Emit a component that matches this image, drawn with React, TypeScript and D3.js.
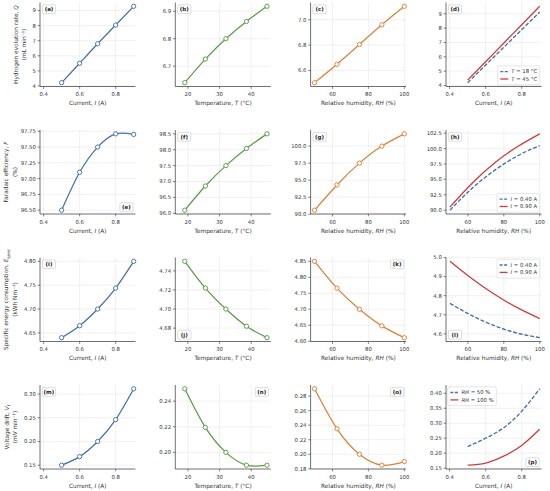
import React from "react";
import * as d3 from "d3";

// ---------------- data ----------------
const currentI = [0.5, 0.6, 0.7, 0.8, 0.9];
const temperatureT = [19, 25.5, 32, 38.5, 45];
const humidityRH = [50, 62.5, 75, 87.5, 100];

const hydrogenVsCurrent = [4.22, 5.51, 6.8, 8.04, 9.28];
const hydrogenVsTemperature = [6.64, 6.726, 6.8, 6.863, 6.918];
const hydrogenVsHumidity = [6.505, 6.65, 6.805, 6.96, 7.105];
const hydrogenCurrentT18 = [4.2, 5.43, 6.66, 7.89, 9.12];
const hydrogenCurrentT45 = [4.38, 5.66, 6.95, 8.23, 9.52];

const faradaicVsCurrent = [96.5, 97.1, 97.5, 97.71, 97.7];
const faradaicVsTemperature = [96.1, 96.86, 97.5, 98.04, 98.5];
const faradaicVsHumidity = [90.6, 94.3, 97.5, 100.0, 101.8];
const faradaicHumidityI040 = [90.0, 93.6, 96.5, 98.8, 100.5];
const faradaicHumidityI090 = [90.5, 94.4, 97.7, 100.3, 102.4];

const energyVsCurrent = [4.64, 4.665, 4.7, 4.744, 4.8];
const energyVsTemperature = [4.75, 4.722, 4.7, 4.682, 4.67];
const energyVsHumidity = [4.85, 4.766, 4.7, 4.648, 4.611];
const energyHumidityI040 = [4.76, 4.694, 4.642, 4.604, 4.58];
const energyHumidityI090 = [4.98, 4.887, 4.806, 4.737, 4.68];

const driftVsCurrent = [0.15, 0.168, 0.2, 0.246, 0.311];
const driftVsTemperature = [0.2496, 0.2195, 0.2, 0.19, 0.19];
const driftVsHumidity = [0.29, 0.235, 0.2, 0.185, 0.19];
const driftCurrentRH50 = [0.222, 0.25, 0.285, 0.34, 0.415];
const driftCurrentRH100 = [0.16, 0.167, 0.19, 0.226, 0.28];

// tick values
const xTicksCurrent = [0.4, 0.6, 0.8];
const xTicksTemperature = [20, 30, 40];
const xTicksHumidity = [60, 80, 100];

const yTicksA = [4, 5, 6, 7, 8, 9];
const yTicksB = [6.7, 6.8, 6.9];
const yTicksC = [6.6, 6.8, 7.0];
const yTicksD = [4, 5, 6, 7, 8, 9];
const yTicksE = [96.5, 96.75, 97.0, 97.25, 97.5, 97.75];
const yTicksF = [96.0, 96.5, 97.0, 97.5, 98.0, 98.5];
const yTicksG = [90.0, 92.5, 95.0, 97.5, 100.0];
const yTicksH = [90.0, 92.5, 95.0, 97.5, 100.0, 102.5];
const yTicksI = [4.65, 4.7, 4.75, 4.8];
const yTicksJ = [4.68, 4.7, 4.72, 4.74];
const yTicksK = [4.6, 4.65, 4.7, 4.75, 4.8, 4.85];
const yTicksL = [4.6, 4.7, 4.8, 4.9, 5.0];
const yTicksM = [0.15, 0.2, 0.25, 0.3];
const yTicksN = [0.2, 0.22, 0.24];
const yTicksO = [0.18, 0.2, 0.22, 0.24, 0.26, 0.28];
const yTicksP = [0.15, 0.2, 0.25, 0.3, 0.35, 0.4];

// ---------------- style ----------------
const BLUE = "#4471a6";
const GREEN = "#5a9c47";
const ORANGE = "#d9823a";
const RED = "#cc3e40";
const FONT = "DejaVu Sans";
const TICK_FS = 5.3;
const LABEL_FS = 5.8;
const TEXT = "#333333";
const GRID = "#e2e2e2";

const COLS = [40, 175.3, 310.6, 446];
const ROWS = [2.5, 130, 257.5, 385];
const PW = 95.5;
const PH = 84;

const X_DOMAIN_I: [number, number] = [0.38, 0.91];
const X_DOMAIN_T: [number, number] = [16, 46.2];
const X_DOMAIN_RH: [number, number] = [47.8, 101];

type Series = {
  x: number[];
  y: number[];
  color: string;
  dashed?: boolean;
  markers?: boolean;
  legend?: { v: string; rest: string };
};

type PanelSpec = {
  tag: string;
  col: number;
  row: number;
  xDomain: [number, number];
  xTicks: number[];
  xDec: number;
  xLabel: { pre: string; v: string; post: string };
  yTicks: number[];
  yDec: number;
  series: Series[];
  tagPos: "tl" | "tr" | "bl" | "br";
  legendPos?: "tl" | "tr" | "bl" | "br";
};

const XL_I = { pre: "Current, ", v: "I", post: " (A)" };
const XL_T = { pre: "Temperature, ", v: "T", post: " (°C)" };
const XL_RH = { pre: "Relative humidity, ", v: "RH", post: " (%)" };

const single = (x: number[], y: number[], color: string): Series[] => [
  { x, y, color, markers: true },
];

const panels: PanelSpec[] = [
  { tag: "(a)", col: 0, row: 0, xDomain: X_DOMAIN_I, xTicks: xTicksCurrent, xDec: 1, xLabel: XL_I, yTicks: yTicksA, yDec: 0, series: single(currentI, hydrogenVsCurrent, BLUE), tagPos: "tl" },
  { tag: "(b)", col: 1, row: 0, xDomain: X_DOMAIN_T, xTicks: xTicksTemperature, xDec: 0, xLabel: XL_T, yTicks: yTicksB, yDec: 1, series: single(temperatureT, hydrogenVsTemperature, GREEN), tagPos: "tl" },
  { tag: "(c)", col: 2, row: 0, xDomain: X_DOMAIN_RH, xTicks: xTicksHumidity, xDec: 0, xLabel: XL_RH, yTicks: yTicksC, yDec: 1, series: single(humidityRH, hydrogenVsHumidity, ORANGE), tagPos: "tl" },
  {
    tag: "(d)", col: 3, row: 0, xDomain: X_DOMAIN_I, xTicks: xTicksCurrent, xDec: 1, xLabel: XL_I, yTicks: yTicksD, yDec: 0,
    series: [
      { x: currentI, y: hydrogenCurrentT18, color: BLUE, dashed: true, legend: { v: "T", rest: " = 18 °C" } },
      { x: currentI, y: hydrogenCurrentT45, color: RED, legend: { v: "T", rest: " = 45 °C" } },
    ],
    tagPos: "tl", legendPos: "br",
  },
  { tag: "(e)", col: 0, row: 1, xDomain: X_DOMAIN_I, xTicks: xTicksCurrent, xDec: 1, xLabel: XL_I, yTicks: yTicksE, yDec: 2, series: single(currentI, faradaicVsCurrent, BLUE), tagPos: "br" },
  { tag: "(f)", col: 1, row: 1, xDomain: X_DOMAIN_T, xTicks: xTicksTemperature, xDec: 0, xLabel: XL_T, yTicks: yTicksF, yDec: 1, series: single(temperatureT, faradaicVsTemperature, GREEN), tagPos: "tl" },
  { tag: "(g)", col: 2, row: 1, xDomain: X_DOMAIN_RH, xTicks: xTicksHumidity, xDec: 0, xLabel: XL_RH, yTicks: yTicksG, yDec: 1, series: single(humidityRH, faradaicVsHumidity, ORANGE), tagPos: "tl" },
  {
    tag: "(h)", col: 3, row: 1, xDomain: X_DOMAIN_RH, xTicks: xTicksHumidity, xDec: 0, xLabel: XL_RH, yTicks: yTicksH, yDec: 1,
    series: [
      { x: humidityRH, y: faradaicHumidityI040, color: BLUE, dashed: true, legend: { v: "I", rest: " = 0.40 A" } },
      { x: humidityRH, y: faradaicHumidityI090, color: RED, legend: { v: "I", rest: " = 0.90 A" } },
    ],
    tagPos: "tl", legendPos: "br",
  },
  { tag: "(i)", col: 0, row: 2, xDomain: X_DOMAIN_I, xTicks: xTicksCurrent, xDec: 1, xLabel: XL_I, yTicks: yTicksI, yDec: 2, series: single(currentI, energyVsCurrent, BLUE), tagPos: "tl" },
  { tag: "(j)", col: 1, row: 2, xDomain: X_DOMAIN_T, xTicks: xTicksTemperature, xDec: 0, xLabel: XL_T, yTicks: yTicksJ, yDec: 2, series: single(temperatureT, energyVsTemperature, GREEN), tagPos: "bl" },
  { tag: "(k)", col: 2, row: 2, xDomain: X_DOMAIN_RH, xTicks: xTicksHumidity, xDec: 0, xLabel: XL_RH, yTicks: yTicksK, yDec: 2, series: single(humidityRH, energyVsHumidity, ORANGE), tagPos: "tr" },
  {
    tag: "(l)", col: 3, row: 2, xDomain: X_DOMAIN_RH, xTicks: xTicksHumidity, xDec: 0, xLabel: XL_RH, yTicks: yTicksL, yDec: 1,
    series: [
      { x: humidityRH, y: energyHumidityI040, color: BLUE, dashed: true, legend: { v: "I", rest: " = 0.40 A" } },
      { x: humidityRH, y: energyHumidityI090, color: RED, legend: { v: "I", rest: " = 0.90 A" } },
    ],
    tagPos: "bl", legendPos: "tr",
  },
  { tag: "(m)", col: 0, row: 3, xDomain: X_DOMAIN_I, xTicks: xTicksCurrent, xDec: 1, xLabel: XL_I, yTicks: yTicksM, yDec: 2, series: single(currentI, driftVsCurrent, BLUE), tagPos: "tl" },
  { tag: "(n)", col: 1, row: 3, xDomain: X_DOMAIN_T, xTicks: xTicksTemperature, xDec: 0, xLabel: XL_T, yTicks: yTicksN, yDec: 2, series: single(temperatureT, driftVsTemperature, GREEN), tagPos: "tr" },
  { tag: "(o)", col: 2, row: 3, xDomain: X_DOMAIN_RH, xTicks: xTicksHumidity, xDec: 0, xLabel: XL_RH, yTicks: yTicksO, yDec: 2, series: single(humidityRH, driftVsHumidity, ORANGE), tagPos: "tr" },
  {
    tag: "(p)", col: 3, row: 3, xDomain: X_DOMAIN_I, xTicks: xTicksCurrent, xDec: 1, xLabel: XL_I, yTicks: yTicksP, yDec: 2,
    series: [
      { x: currentI, y: driftCurrentRH50, color: BLUE, dashed: true, legend: { v: "RH", rest: " = 50 %" } },
      { x: currentI, y: driftCurrentRH100, color: RED, legend: { v: "RH", rest: " = 100 %" } },
    ],
    tagPos: "br", legendPos: "tl",
  },
];

// approximate DejaVu Sans advance widths (em)
const CW: Record<string, number> = {
  "0": 0.636, "1": 0.636, "2": 0.636, "3": 0.636, "4": 0.636, "5": 0.636, "6": 0.636, "7": 0.636, "8": 0.636, "9": 0.636,
  ".": 0.318, " ": 0.318, "=": 0.838, "°": 0.5, C: 0.698, A: 0.684, "%": 0.95, T: 0.611, I: 0.295, R: 0.695, H: 0.752,
};
const textW = (s: string, fs: number) =>
  s.split("").reduce((a, c) => a + (CW[c] ?? 0.6), 0) * fs;

function Panel({ p }: { p: PanelSpec }) {
  const left = COLS[p.col];
  const top = ROWS[p.row];
  const right = left + PW;
  const bottom = top + PH;
  const x = d3.scaleLinear().domain(p.xDomain).range([left, right]);
  const allY = p.series.flatMap((s) => s.y);
  const mn = d3.min(allY) as number;
  const mx = d3.max(allY) as number;
  const pad = (mx - mn) * 0.05;
  const y = d3.scaleLinear().domain([mn - pad, mx + pad]).range([bottom, top]);
  const line = d3
    .line<[number, number]>()
    .x((d) => x(d[0]))
    .y((d) => y(d[1]))
    .curve(d3.curveNatural);

  // tag box
  const tagW = 13.2;
  const tagH = 8.8;
  const inset = 2.4;
  const tagX = p.tagPos.endsWith("l") ? left + inset : right - inset - tagW;
  const tagY = p.tagPos.startsWith("t") ? top + inset : bottom - inset - tagH;

  // legend
  const legendItems = p.series.filter((s) => s.legend);
  let legend: React.ReactNode = null;
  if (p.legendPos && legendItems.length) {
    const lfs = TICK_FS;
    const handle = 8;
    const maxText = d3.max(legendItems, (s) => textW(s.legend!.v + s.legend!.rest, lfs)) as number;
    const lw = 2.6 + handle + 3 + maxText + 2.6;
    const rowH = 7.4;
    const lh = 4 + rowH * legendItems.length;
    const li = 1.8;
    const lx = p.legendPos.endsWith("l") ? left + li : right - li - lw;
    const ly = p.legendPos.startsWith("t") ? top + li : bottom - li - lh;
    legend = (
      <g>
        <rect x={lx} y={ly} width={lw} height={lh} rx={1.2} fill="white" fillOpacity={0.85} stroke="#cccccc" strokeWidth={0.5} />
        {legendItems.map((s, i) => {
          const cy = ly + 2 + rowH * (i + 0.5);
          return (
            <g key={i}>
              <line
                x1={lx + 2.6}
                x2={lx + 2.6 + handle}
                y1={cy}
                y2={cy}
                stroke={s.color}
                strokeWidth={1.3}
                strokeDasharray={s.dashed ? "3,1.5" : undefined}
              />
              <text x={lx + 2.6 + handle + 3} y={cy} dy="0.35em" fontSize={lfs} fill={TEXT} fontFamily={FONT}>
                <tspan fontStyle="italic">{s.legend!.v}</tspan>
                {s.legend!.rest}
              </text>
            </g>
          );
        })}
      </g>
    );
  }

  return (
    <g>
      {/* grid */}
      {p.xTicks.map((t) => (
        <line key={"gx" + t} x1={x(t)} x2={x(t)} y1={top} y2={bottom} stroke={GRID} strokeWidth={0.5} />
      ))}
      {p.yTicks.map((t) => (
        <line key={"gy" + t} x1={left} x2={right} y1={y(t)} y2={y(t)} stroke={GRID} strokeWidth={0.5} />
      ))}
      {/* series */}
      {p.series.map((s, i) => {
        const pts = s.x.map((xv, j) => [xv, s.y[j]] as [number, number]);
        return (
          <g key={i}>
            <path
              d={line(pts) || ""}
              fill="none"
              stroke={s.color}
              strokeWidth={s.markers ? 1.25 : 1.35}
              strokeDasharray={s.dashed ? "4,1.8" : undefined}
            />
            {s.markers &&
              pts.map((d, j) => (
                <circle key={j} cx={x(d[0])} cy={y(d[1])} r={2.15} fill="white" stroke={s.color} strokeWidth={0.95} />
              ))}
          </g>
        );
      })}
      {/* spines */}
      <line x1={left} x2={left} y1={top} y2={bottom} stroke="#333" strokeWidth={0.7} />
      <line x1={left} x2={right} y1={bottom} y2={bottom} stroke="#333" strokeWidth={0.7} />
      {/* x ticks */}
      {p.xTicks.map((t) => (
        <g key={"xt" + t}>
          <line x1={x(t)} x2={x(t)} y1={bottom} y2={bottom + 2.4} stroke="#333" strokeWidth={0.6} />
          <text x={x(t)} y={bottom + 9.6} textAnchor="middle" fontSize={TICK_FS} fill={TEXT} fontFamily={FONT}>
            {t.toFixed(p.xDec)}
          </text>
        </g>
      ))}
      {/* y ticks */}
      {p.yTicks.map((t) => (
        <g key={"yt" + t}>
          <line x1={left - 2.4} x2={left} y1={y(t)} y2={y(t)} stroke="#333" strokeWidth={0.6} />
          <text x={left - 4.2} y={y(t)} dy="0.36em" textAnchor="end" fontSize={TICK_FS} fill={TEXT} fontFamily={FONT}>
            {t.toFixed(p.yDec)}
          </text>
        </g>
      ))}
      {/* x label */}
      <text x={(left + right) / 2} y={bottom + 18.6} textAnchor="middle" fontSize={LABEL_FS} fill={TEXT} fontFamily={FONT}>
        {p.xLabel.pre}
        <tspan fontStyle="italic">{p.xLabel.v}</tspan>
        {p.xLabel.post}
      </text>
      {/* tag */}
      <rect x={tagX} y={tagY} width={tagW} height={tagH} rx={1.2} fill="white" fillOpacity={0.85} stroke="#bbbbbb" strokeWidth={0.5} />
      <text x={tagX + tagW / 2} y={tagY + tagH / 2} dy="0.36em" textAnchor="middle" fontSize={5.5} fontWeight="bold" fill="#222" fontFamily={FONT}>
        {p.tag}
      </text>
      {legend}
    </g>
  );
}

type YLabel = { line1: React.ReactNode; line2: React.ReactNode; x1: number; x2: number };

const yLabels: YLabel[] = [
  {
    line1: (
      <>
        Hydrogen evolution rate, <tspan fontStyle="italic">Q</tspan>
      </>
    ),
    line2: "(mL min⁻¹)",
    x1: 15.8,
    x2: 23.6,
  },
  {
    line1: (
      <>
        Faradaic efficiency, <tspan fontStyle="italic">F</tspan>
      </>
    ),
    line2: "(%)",
    x1: 6.4,
    x2: 14.8,
  },
  {
    line1: (
      <>
        Specific energy consumption, <tspan fontStyle="italic">E</tspan>
        <tspan fontSize={4.2} dy={1.3} fontStyle="italic">spec</tspan>
      </>
    ),
    line2: "(kWh Nm⁻³)",
    x1: 6.4,
    x2: 14.8,
  },
  {
    line1: (
      <>
        Voltage drift, <tspan fontStyle="italic">V</tspan>
        <tspan fontSize={4.2} dy={1.3} fontStyle="italic">t</tspan>
      </>
    ),
    line2: "(mV min⁻¹)",
    x1: 6.6,
    x2: 15,
  },
];

export default function App() {
  return (
    <svg
      width={550}
      height={491}
      viewBox="0 0 550 491"
      style={{ position: "absolute", left: 0, top: 0, background: "white" }}
    >
      <rect x={0} y={0} width={550} height={491} fill="white" />
      {panels.map((p) => (
        <Panel key={p.tag} p={p} />
      ))}
      {yLabels.map((l, r) => {
        const cy = ROWS[r] + PH / 2;
        return (
          <g key={r}>
            <text
              transform={`translate(${l.x1},${cy}) rotate(-90)`}
              textAnchor="middle"
              dominantBaseline="central"
              fontSize={LABEL_FS}
              fill={TEXT}
              fontFamily={FONT}
            >
              {l.line1}
            </text>
            <text
              transform={`translate(${l.x2},${cy}) rotate(-90)`}
              textAnchor="middle"
              dominantBaseline="central"
              fontSize={LABEL_FS}
              fill={TEXT}
              fontFamily={FONT}
            >
              {l.line2}
            </text>
          </g>
        );
      })}
    </svg>
  );
}
